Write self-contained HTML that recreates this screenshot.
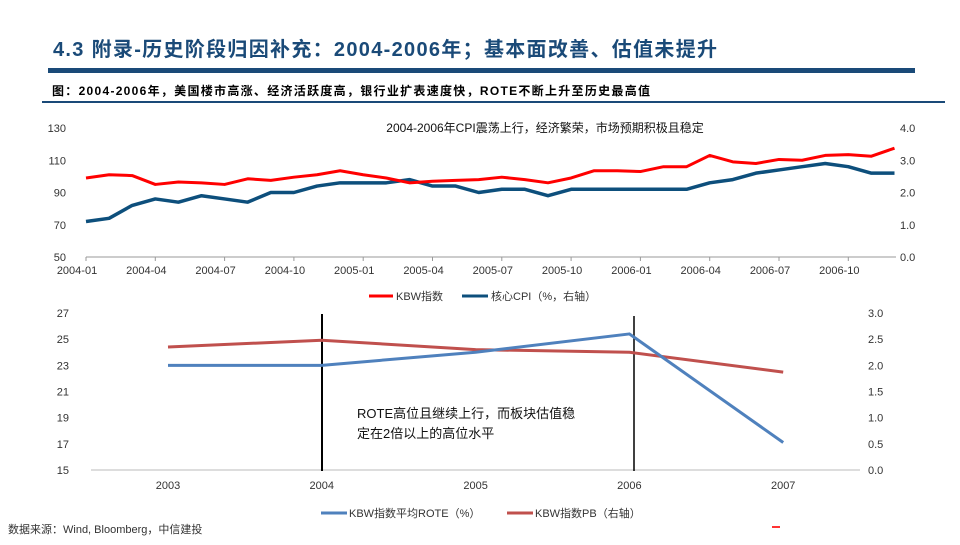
<!DOCTYPE html>
<html><head><meta charset="utf-8">
<style>
body{margin:0;width:960px;height:540px;background:#fff;overflow:hidden;font-family:"Liberation Sans","Noto Sans CJK SC",sans-serif;}
svg text{font-family:"Liberation Sans","Noto Sans CJK SC",sans-serif;}
</style></head>
<body>
<svg width="960" height="540" viewBox="0 0 960 540">
<text x="53" y="56" font-size="20" font-weight="bold" fill="#1a4a78" textLength="664" lengthAdjust="spacing">4.3 附录-历史阶段归因补充：2004-2006年；基本面改善、估值未提升</text>
<rect x="48" y="68" width="867" height="5" fill="#1a4a78"/>
<text x="52" y="95" font-size="12" font-weight="bold" fill="#000" textLength="598" lengthAdjust="spacing">图：2004-2006年，美国楼市高涨、经济活跃度高，银行业扩表速度快，ROTE不断上升至历史最高值</text>
<rect x="42" y="101" width="903" height="2" fill="#1a4a78"/>
<g id="topChart"></g>
<g id="botChart"></g>
<text x="8" y="533" font-size="11" fill="#333">数据来源：Wind, Bloomberg，中信建投</text>
<rect x="772" y="526" width="8" height="2" fill="#f33"/>
</svg>
<script>
const months=['2004-01','2004-04','2004-07','2004-10','2005-01','2005-04','2005-07','2005-10','2006-01','2006-04','2006-07','2006-10'];
const kbw=[99,101,100.5,95,96.5,96,95,98.5,97.5,99.5,101,103.5,101,99,96,97,97.5,98,99.5,98,96,99,103.5,103.5,103,106,106,113,109,108,110.5,110,113,113.5,112.5,117.5];
const cpi=[1.1,1.2,1.6,1.8,1.7,1.9,1.8,1.7,2.0,2.0,2.2,2.3,2.3,2.3,2.4,2.2,2.2,2.0,2.1,2.1,1.9,2.1,2.1,2.1,2.1,2.1,2.1,2.3,2.4,2.6,2.7,2.8,2.9,2.8,2.6,2.6];
const leftTicksTop=[50,70,90,110,130];
const rightTicksTop=['0.0','1.0','2.0','3.0','4.0'];
const years=['2003','2004','2005','2006','2007'];
const rote=[23,23,24,25.4,17.1];
const pb=[2.35,2.48,2.3,2.25,1.87];
const leftTicksBot=[15,17,19,21,23,25,27];
const rightTicksBot=['0.0','0.5','1.0','1.5','2.0','2.5','3.0'];

const NS='http://www.w3.org/2000/svg';
function mk(parent,tag,attrs,txt){const e=document.createElementNS(NS,tag);for(const k in attrs)e.setAttribute(k,attrs[k]);if(txt!==undefined)e.textContent=txt;parent.appendChild(e);return e;}

// top chart
const topG=document.getElementById('topChart');
const tx=i=>86+i*23.1;
const ty=v=>257-(v-50)/80*129;
const tyR=v=>257-v/4*129;
mk(topG,'line',{x1:86,y1:257,x2:896,y2:257,stroke:'#999','stroke-width':1});
leftTicksTop.forEach(v=>{const t=mk(topG,'text',{x:66,y:ty(v)+4,'font-size':11,'text-anchor':'end',fill:'#333'},v);

});
rightTicksTop.forEach((v,i)=>{const t=mk(topG,'text',{x:900,y:ty(50+i*20)+4,'font-size':11,fill:'#333'},v);

});
months.forEach((m,i)=>{const x=tx(i*3);
const tk=mk(topG,'line',{x1:x,y1:257,x2:x,y2:261,stroke:'#999'});


const t=mk(topG,'text',{x:x-9,y:274,'font-size':11,'text-anchor':'middle',fill:'#333'},m);

});
const tt=mk(topG,'text',{x:545,y:132,'font-size':12,'text-anchor':'middle',fill:'#111'},'2004-2006年CPI震荡上行，经济繁荣，市场预期积极且稳定');


let p1=mk(topG,'polyline',{points:cpi.map((v,i)=>tx(i)+','+tyR(v)).join(' '),fill:'none',stroke:'#0d4f7c','stroke-width':3.5,'stroke-linejoin':'round'});


let p2=mk(topG,'polyline',{points:kbw.map((v,i)=>tx(i)+','+ty(v)).join(' '),fill:'none',stroke:'#f00','stroke-width':3,'stroke-linejoin':'round'});


let l1=mk(topG,'g',{});


mk(l1,'line',{x1:369,y1:296,x2:393,y2:296,stroke:'#f00','stroke-width':3});
mk(l1,'text',{x:396,y:300,'font-size':11,fill:'#333'},'KBW指数');
let l2=mk(topG,'g',{});


mk(l2,'line',{x1:462,y1:296,x2:488,y2:296,stroke:'#0d4f7c','stroke-width':3});
mk(l2,'text',{x:491,y:300,'font-size':11,fill:'#333'},'核心CPI（%，右轴）');

// bottom chart
const botG=document.getElementById('botChart');
const bx=i=>168+i*153.8;
const by=v=>470-(v-15)/12*157;
const byR=v=>470-v/3*157;
mk(botG,'line',{x1:91,y1:470,x2:860,y2:470,stroke:'#bbb','stroke-width':1});
leftTicksBot.forEach(v=>{const t=mk(botG,'text',{x:69,y:by(v)+4,'font-size':11,'text-anchor':'end',fill:'#333'},v);

});
rightTicksBot.forEach((v,i)=>{const t=mk(botG,'text',{x:868,y:by(15+i*2)+4,'font-size':11,fill:'#333'},v);

});
years.forEach((y,i)=>{const t=mk(botG,'text',{x:bx(i),y:489,'font-size':11,'text-anchor':'middle',fill:'#333'},y);

});
let v1=mk(botG,'line',{x1:322,y1:314,x2:322,y2:471,stroke:'#000','stroke-width':2});


let v2=mk(botG,'line',{x1:634,y1:316,x2:634,y2:471,stroke:'#000','stroke-width':1.5});


let p3=mk(botG,'polyline',{points:pb.map((v,i)=>bx(i)+','+byR(v)).join(' '),fill:'none',stroke:'#c0504d','stroke-width':3,'stroke-linejoin':'round'});


let p4=mk(botG,'polyline',{points:rote.map((v,i)=>bx(i)+','+by(v)).join(' '),fill:'none',stroke:'#4f81bd','stroke-width':3,'stroke-linejoin':'round'});


let an=mk(botG,'text',{x:357,y:418,'font-size':13,fill:'#111'});


mk(an,'tspan',{x:357,y:418},'ROTE高位且继续上行，而板块估值稳');
mk(an,'tspan',{x:357,y:438},'定在2倍以上的高位水平');
let l3=mk(botG,'g',{});


mk(l3,'line',{x1:321,y1:513,x2:347,y2:513,stroke:'#4f81bd','stroke-width':3});
mk(l3,'text',{x:349,y:517,'font-size':11,fill:'#333'},'KBW指数平均ROTE（%）');
let l4=mk(botG,'g',{});


mk(l4,'line',{x1:507,y1:513,x2:533,y2:513,stroke:'#c0504d','stroke-width':3});
mk(l4,'text',{x:535,y:517,'font-size':11,fill:'#333'},'KBW指数PB（右轴）');
</script>
</body></html>
